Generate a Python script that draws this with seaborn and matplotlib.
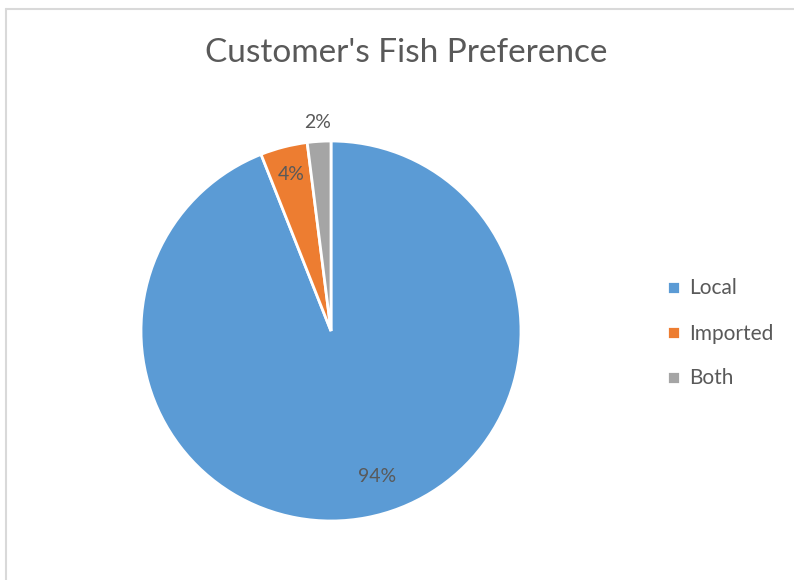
import matplotlib
matplotlib.use("Agg")
import seaborn as sns
from matplotlib import pyplot as plt
from matplotlib.lines import Line2D

sns.set_theme(style="white")
plt.rcParams["font.family"] = ["Lato", "DejaVu Sans"]

# Chart data
categories = ["Local", "Imported", "Both"]
shares = [94, 4, 2]
colors = ["#5B9BD5", "#ED7D31", "#A5A5A5"]
title = "Customer's Fish Preference"
text_color = "#595959"

fig = plt.figure(figsize=(7.94, 5.8), dpi=100)

# light chart-area border (top and left edges visible in the reference)
fig.add_artist(Line2D([6 / 794, 1], [1 - 9 / 580, 1 - 9 / 580], color="#D9D9D9", lw=1.5))
fig.add_artist(Line2D([6 / 794, 6 / 794], [0, 1 - 9 / 580], color="#D9D9D9", lw=1.5))

ax = fig.add_axes([141 / 794, 59 / 580, 380 / 794, 380 / 580])
wedges, texts, autotexts = ax.pie(
    shares,
    colors=colors,
    startangle=90,
    counterclock=False,
    autopct="%1.0f%%",
    pctdistance=0.8,
    wedgeprops=dict(edgecolor="white", linewidth=2),
    textprops=dict(color=text_color, fontsize=14),
    radius=1,
)
# smallest slice label sits outside the pie
x, y = autotexts[2].get_position()
autotexts[2].set_position((x * 1.1 / 0.8, y * 1.1 / 0.8))
x, y = autotexts[1].get_position()
autotexts[1].set_position((x * 0.85 / 0.8, y * 0.85 / 0.8))
# larger slice label a bit toward the right like the original
x, y = autotexts[0].get_position()
autotexts[0].set_position((x + 0.09, y + 0.02))
ax.set_xlim(-1, 1)
ax.set_ylim(-1, 1)
ax.set_aspect("equal")

fig.suptitle(title, x=0.512, y=1 - 53 / 580, fontsize=24, color=text_color, va="center")

fig.legend(
    wedges,
    categories,
    loc="center left",
    bbox_to_anchor=(0.817, 0.425),
    frameon=False,
    fontsize=15,
    labelcolor=text_color,
    handlelength=0.6,
    handleheight=0.6,
    handletextpad=0.45,
    labelspacing=1.2,
)

fig.savefig("out.png", dpi=100, facecolor="white")
